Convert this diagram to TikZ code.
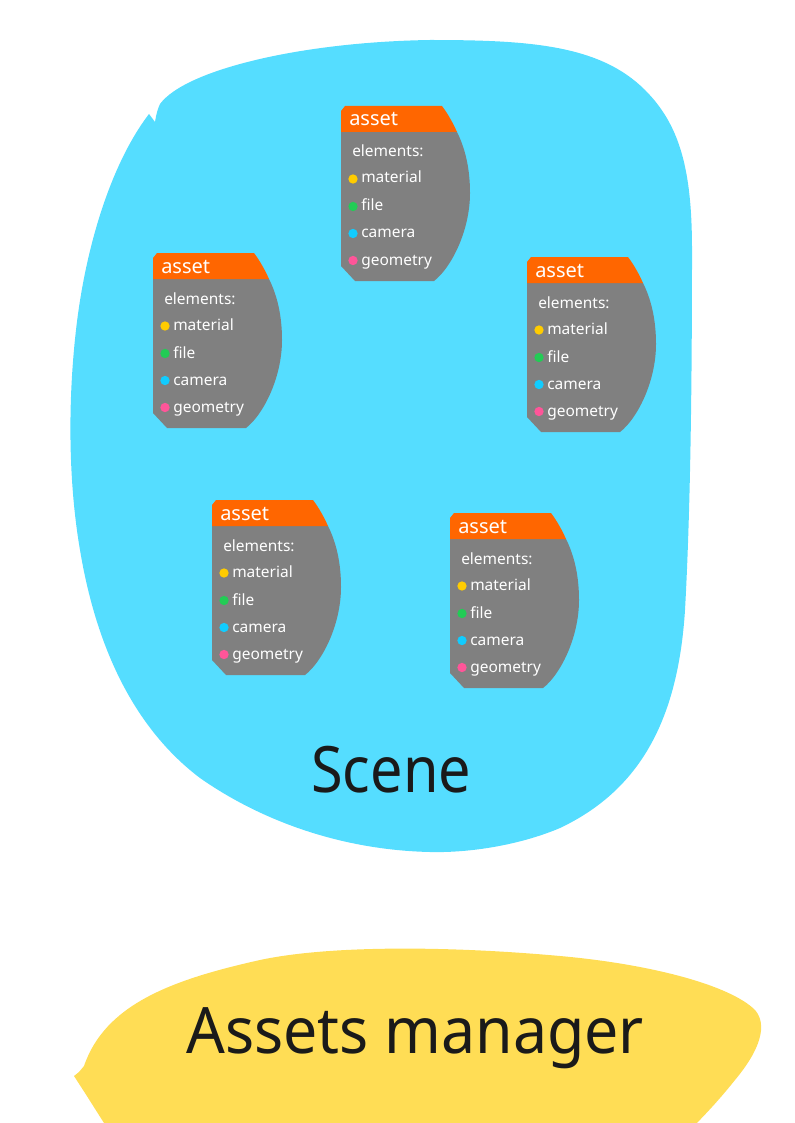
\documentclass[tikz,border=0pt]{standalone}
\usepackage{fontspec}
\setmainfont{Noto Sans}
\usepackage{graphicx}
\definecolor{scenecol}{HTML}{55DDFF}
\definecolor{mgrcol}{HTML}{FFDD55}
\definecolor{assetorange}{HTML}{FF6600}
\definecolor{assetgray}{HTML}{808080}
\definecolor{dotyellow}{HTML}{FFCC00}
\definecolor{dotgreen}{HTML}{22CC55}
\definecolor{dotcyan}{HTML}{11CCFF}
\definecolor{dotpink}{HTML}{FF5599}
\definecolor{inkblack}{HTML}{1A1A1A}
\tikzset{
  assethead/.style={fill=assetorange},
  assetbody/.style={fill=assetgray},
  headtext/.style={anchor=base west, inner sep=0pt, text=white, font=\fontsize{15}{18}\selectfont},
  itemtext/.style={anchor=base west, inner sep=0pt, text=white, font=\fontsize{11.6}{14}\selectfont},
  itemdot/.style={circle, inner sep=0pt, minimum size=7pt},
  bigtext/.style={anchor=base west, inner sep=0pt, text=inkblack, font=\fontsize{48}{58}\selectfont}
}
\newcommand{\assetbox}[3]{%
  \begin{scope}[shift={(#2,#3)}]
    \fill[assetbody] (0,26) -- (0,160) -- (14,175) -- (93,175)
      .. controls (110,162) and (129,125) .. (129,87)
      .. controls (129,62) and (124,42) .. (116,26) -- cycle;
    \fill[assethead] (0,26) -- (0,5) -- (4,0) -- (101,0)
      .. controls (107,8) and (112,17) .. (116,26) -- cycle;
    \node[headtext] (#1-title) at (8,20) {asset};
    \node[itemtext] (#1-el) at (11,51) {elements:};
    \node[itemdot, fill=dotyellow] (#1-d1) at (12,73) {};
    \node[itemtext] (#1-mat) at (20,77) {material};
    \node[itemdot, fill=dotgreen] (#1-d2) at (12,100.5) {};
    \node[itemtext] (#1-file) at (20,105) {file};
    \node[itemdot, fill=dotcyan] (#1-d3) at (12,127.5) {};
    \node[itemtext] (#1-cam) at (20,132) {camera};
    \node[itemdot, fill=dotpink] (#1-d4) at (12,154.5) {};
    \node[itemtext] (#1-geo) at (20,159) {geometry};
  \end{scope}}
\begin{document}
\begin{tikzpicture}[x=0.75pt,y=-0.75pt]
\useasboundingbox (0,0) rectangle (794,1123);
\clip (0,0) rectangle (794,1123);
% Scene blob
\fill[scenecol] (160,104)
  .. controls (185,70) and (300,42) .. (430,40)
  .. controls (530,40) and (600,45) .. (645,90)
  .. controls (680,125) and (692,170) .. (692,250)
  .. controls (692,400) and (690,520) .. (685,610)
  .. controls (678,720) and (640,790) .. (560,828)
  .. controls (520,845) and (470,853) .. (430,852)
  .. controls (340,850) and (260,820) .. (200,778)
  .. controls (130,725) and (95,640) .. (80,550)
  .. controls (68,480) and (68,400) .. (76,330)
  .. controls (85,250) and (110,165) .. (149,114)
  -- (155,122) .. controls (156,115) and (158,108) .. (160,104) -- cycle;
% Assets manager blob
\fill[mgrcol] (84,1066)
  .. controls (105,1005) and (170,980) .. (260,960)
  .. controls (330,945) and (450,946) .. (560,956)
  .. controls (650,964) and (730,985) .. (755,1010)
  .. controls (768,1025) and (760,1050) .. (735,1080)
  .. controls (715,1105) and (700,1120) .. (680,1140)
  -- (110,1140) -- (104,1123) -- (85,1093) -- (74,1076) -- (79,1072) -- cycle;
\assetbox{a1}{341}{106}
\assetbox{a2}{153}{253}
\assetbox{a3}{527}{257}
\assetbox{a4}{212}{500}
\assetbox{a5}{450}{513}
\node[bigtext] (scene) at (311,792) {\scalebox{0.9}[1]{Scene}};
\node[bigtext] (manager) at (186,1053) {\scalebox{0.95}[1]{Assets manager}};
\end{tikzpicture}
\end{document}
